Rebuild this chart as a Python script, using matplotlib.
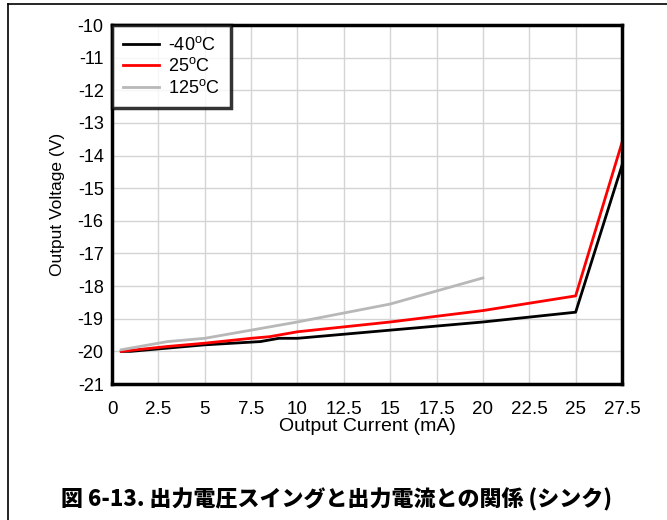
import matplotlib.pyplot as plt
from matplotlib.lines import Line2D
import numpy as np

plt.rcParams['font.family'] = ['Liberation Sans', 'DejaVu Sans']
plt.rcParams['axes.unicode_minus'] = False

# -40 C
x_m40 = [0.5, 1, 3, 5, 8, 9, 10, 15, 20, 25, 27.5]
y_m40 = [-20.0, -20.0, -19.9, -19.8, -19.7, -19.6, -19.6, -19.35, -19.1, -18.8, -14.3]
# 25 C
x_25 = [0.5, 3, 5, 7.5, 8.5, 10, 15, 20, 25, 27.5]
y_25 = [-20.0, -19.85, -19.75, -19.6, -19.55, -19.4, -19.1, -18.75, -18.3, -13.6]
# 125 C
x_125 = [0.5, 1, 3, 5, 10, 15, 20]
y_125 = [-19.95, -19.9, -19.7, -19.6, -19.1, -18.55, -17.75]

labels = ['-40$^{\\mathregular{o}}$C', '25$^{\\mathregular{o}}$C', '125$^{\\mathregular{o}}$C']
xtick_labels = ['0', '2.5', '5', '7.5', '10', '12.5', '15', '17.5', '20', '22.5', '25', '27.5']
caption = '図 6-13. 出力電圧スイングと出力電流との関係 (シンク)'

fig = plt.figure(figsize=(6.67, 5.2), dpi=100)
ax = fig.add_axes([112 / 667, 1 - 384 / 520, 510 / 667, 359 / 520])

ax.plot(x_m40, y_m40, color='black', lw=2, label=labels[0])
ax.plot(x_25, y_25, color='#ff0000', lw=2, label=labels[1])
ax.plot(x_125, y_125, color='#b8b8b8', lw=2, label=labels[2])

ax.set_xlim(0, 27.5)
ax.set_ylim(-21, -10)
ax.set_xticks(np.arange(0, 27.6, 2.5))
ax.set_xticklabels(xtick_labels)
ax.set_yticks(np.arange(-21, -9.9, 1))
ax.grid(color='#d4d4d4', lw=1)
ax.set_axisbelow(True)
ax.tick_params(axis='x', length=0, labelsize=13.5, pad=12)
ax.tick_params(axis='y', length=0, labelsize=13, pad=6)
for s in ax.spines.values():
    s.set_linewidth(2.5)

ax.set_xlabel('Output Current (mA)', fontsize=14, labelpad=0)
ax.set_ylabel('Output Voltage (V)', fontsize=12.5, labelpad=9)

leg = ax.legend(loc='upper left', fontsize=13, frameon=True, fancybox=False,
                borderaxespad=0, handlelength=2.0, handletextpad=0.5,
                labelspacing=0.2, borderpad=0.6)
leg.get_frame().set_edgecolor('black')
leg.get_frame().set_linewidth(2.5)

fig.text(0.505, 1 - 500 / 520, caption, ha='center', va='center', fontsize=15.8,
         fontweight='heavy', family=['Noto Sans CJK JP', 'DejaVu Sans'])

# outer frame
fig.add_artist(Line2D([8 / 667, 8 / 667], [0, 1 - 4 / 520], color='black', lw=1.2))
fig.add_artist(Line2D([8 / 667, 1], [1 - 4 / 520, 1 - 4 / 520], color='black', lw=1.2))

fig.savefig('out.png', dpi=100)
